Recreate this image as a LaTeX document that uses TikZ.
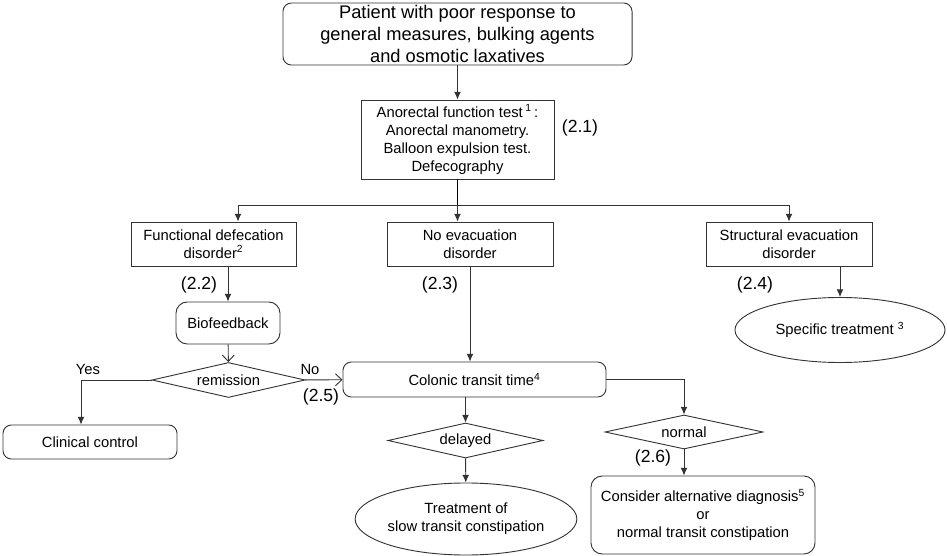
\documentclass[tikz,border=0pt]{standalone}
\usepackage{fontspec}
\setmainfont{Liberation Sans}
\usepackage{tikz}
\usetikzlibrary{arrows,arrows.meta,shapes,calc}

\begin{document}
\begin{tikzpicture}[x=0.025cm,y=-0.025cm,>={Latex[length=1.9mm,width=1.7mm]},line width=0.65pt]
  \useasboundingbox (0,0) rectangle (947,556);
  \tikzstyle{every node}=[font=\fontsize{10.5}{12.8}\selectfont,align=center,draw=black!80,inner sep=1pt]
  \tikzstyle{Box}=[rectangle]
  \tikzstyle{RBox}=[rectangle,rounded corners=6pt]
  \tikzstyle{Ask}=[diamond,aspect=4.5,inner sep=0pt]
  \tikzstyle{Oval}=[ellipse,inner sep=0pt]
  \tikzstyle{Tag}=[draw=none,font=\fontsize{12.5}{14}\selectfont]
  \tikzstyle{Word}=[draw=none]
  \tikzstyle{Link}=[draw=black!80,->]
  \tikzstyle{OpenLink}=[draw=black!80,-{Straight Barb[length=1.6mm,width=3mm]}]

  % boxes
  \node[RBox,minimum width=8.725cm,minimum height=1.55cm,font=\fontsize{13}{15.6}\selectfont] (patient) at (457.5,34)
    {Patient with poor response to\\general measures, bulking agents\\and osmotic laxatives};
  \node[Box,minimum width=4.825cm,minimum height=1.975cm] (test) at (457.5,139.5)
    {Anorectal function test\,\textsuperscript{1}\,:\\Anorectal manometry.\\Balloon expulsion test.\\Defecography};
  \node[Box,minimum width=4.125cm,minimum height=1.1cm] (functional) at (213.5,244)
    {Functional defecation\\disorder\textsuperscript{2}};
  \node[Box,minimum width=4.15cm,minimum height=1.1cm] (noevac) at (470,244)
    {No evacuation\\disorder};
  \node[Box,minimum width=4.15cm,minimum height=1.1cm] (structural) at (789,244)
    {Structural evacuation\\disorder};
  \node[RBox,minimum width=2.6cm,minimum height=1.05cm,rounded corners=8pt] (bio) at (228,323) {Biofeedback};
  \node[Oval,minimum width=5.25cm,minimum height=1.625cm] (specific) at (840,330)
    {Specific treatment \textsuperscript{3}};
  \node[Ask,minimum width=3.825cm,minimum height=0.875cm] (remission) at (228.5,380) {remission};
  \node[RBox,minimum width=4.35cm,minimum height=0.85cm] (clinical) at (90,442) {Clinical control};
  \node[RBox,minimum width=6.575cm,minimum height=0.875cm] (colonic) at (474.5,379.5)
    {Colonic transit time\textsuperscript{4}};
  \node[Ask,minimum width=3.875cm,minimum height=0.875cm] (delayed) at (465.5,440.5) {delayed};
  \node[Ask,minimum width=3.95cm,minimum height=0.85cm] (normal) at (684,432) {normal};
  \node[Oval,minimum width=5.3cm,minimum height=1.8cm] (slow) at (466,519)
    {Treatment of\\slow transit constipation};
  \node[RBox,minimum width=5.6cm,minimum height=1.95cm,rounded corners=8pt] (alternative) at (703,515)
    {Consider alternative diagnosis\textsuperscript{5}\\or\\normal transit constipation};

  % labels
  \node[Tag] (t21) at (580,128) {(2.1)};
  \node[Tag] (t22) at (199,285) {(2.2)};
  \node[Tag] (t23) at (440,285) {(2.3)};
  \node[Tag] (t24) at (755,285) {(2.4)};
  \node[Tag] (t25) at (321,397) {(2.5)};
  \node[Tag] (t26) at (653,458) {(2.6)};
  \node[Word] (yes) at (88,369) {Yes};
  \node[Word] (no) at (310,369) {No};

  \coordinate (split) at (457.5,205);
  \coordinate (fjoin) at (238,205);
  \coordinate (yjoin) at (81,380);

  % connectors
  \draw[Link] (patient) -- (test);
  \draw (test) -- (split);
  \draw[Link] (split) -- (fjoin) -- (fjoin |- functional.north);
  \draw[Link] (split) -- (split |- noevac.north);
  \draw[Link] (split) -| (structural);
  \draw[Link] (functional.south -| bio) -- (bio);
  \draw[OpenLink] (bio) -- (remission);
  \draw[Link] (remission) -- (yjoin) -- (yjoin |- clinical.north);
  \draw[OpenLink] (remission) -- (colonic);
  \draw[Link] (noevac) -- (noevac |- colonic.north);
  \draw[Link] (structural.south -| specific) -- (specific);
  \draw[Link] (colonic.south -| delayed) -- (delayed);
  \draw[Link] (delayed) -- (slow);
  \draw[Link] (colonic) -| (normal);
  \draw[Link] (normal) -- (normal |- alternative.north);
\end{tikzpicture}
\end{document}
